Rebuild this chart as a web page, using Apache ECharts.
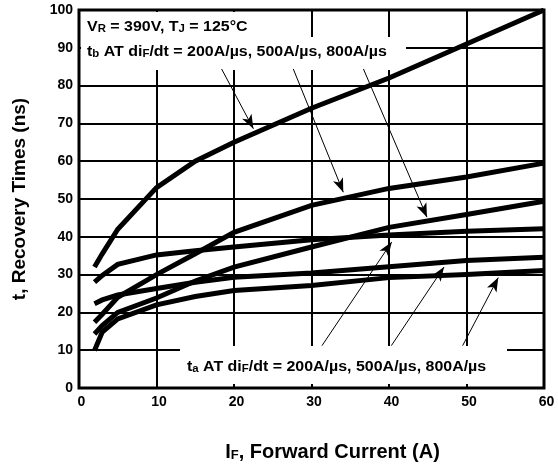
<!DOCTYPE html>
<html>
<head>
<meta charset="utf-8">
<script src="https://cdn.jsdelivr.net/npm/echarts@6/dist/echarts.min.js"></script>
<style>
html, body { margin: 0; padding: 0; background: #fff; }
#main { width: 558px; height: 468px; }
</style>
</head>
<body>
<div id="main"></div>
<script>
// forward current (A), shared by all curves
var current = [2, 3, 5, 10, 15, 20, 30, 40, 50, 60];

// t_b curves (ns)
var tb200 = [32, 35.5, 42, 53, 60, 65, 74, 82, 91, 100];
var tb500 = [17.4, 19.5, 24, 30, 35.5, 41.2, 48.3, 52.8, 55.8, 59.5];
var tb800 = [14.3, 16.5, 20, 23.8, 28.3, 32, 37.3, 42.5, 45.9, 49.4];

// t_a curves (ns)
var ta200 = [28, 29.8, 32.7, 35.2, 36.3, 37.3, 39.2, 40.5, 41.5, 42.1];
var ta500 = [22.3, 23.3, 24.6, 26.3, 28, 29.3, 30.4, 32.1, 33.7, 34.6];
var ta800 = [9.9, 14.8, 18.3, 22, 24.2, 25.8, 27.1, 29.2, 30, 31.1];

// annotation arrows, in data units
var arrowFrom = [[18.4, 84.4], [27.65, 84.4], [36.7, 84.4], [31.35, 11.2], [40.3, 11.2], [49.5, 11.2]];
var arrowTo = [[22.5, 68.6], [34.1, 51.8], [44.9, 45.2], [40.35, 38.6], [47.1, 32.0], [54.1, 29.2]];

var FONT = 'Liberation Sans, Arial, sans-serif';

function pairs(ys) {
    return current.map(function (x, i) { return [x, ys[i]]; });
}

var chart = echarts.init(document.getElementById('main'), null, { renderer: 'canvas' });

function curve(ys) {
    return {
        type: 'line',
        data: pairs(ys),
        symbol: 'none',
        silent: true,
        lineStyle: { color: '#000', width: 5, join: 'miter' },
        z: 3
    };
}

var arrows = arrowFrom.map(function (p, i) {
    return [
        { coord: p, symbol: 'none' },
        { coord: arrowTo[i], symbol: 'arrow' }
    ];
});

var series = [tb200, tb500, tb800, ta200, ta500, ta800].map(curve);
series[0].markLine = {
    silent: true,
    animation: false,
    symbolSize: [8, 14],
    label: { show: false },
    lineStyle: { color: '#000', width: 1, type: 'solid' },
    emphasis: { disabled: true },
    data: arrows
};

var subStyle = { fontFamily: FONT, fontWeight: 'bold', fontSize: 10, padding: [9, 0, 0, 0], verticalAlign: 'bottom', lineHeight: 10 };
var mainStyle = { fontFamily: FONT, fontWeight: 'bold', fontSize: 14, lineHeight: 18, verticalAlign: 'bottom' };

// notes are a little wider than Arial, hence the scaleX
function note(x, y, txt) {
    return {
        type: 'text',
        x: x, y: y,
        scaleX: 1.14,
        z: 10,
        style: {
            text: txt,
            fill: '#000',
            rich: { n: mainStyle, s: subStyle }
        }
    };
}

option = {
    backgroundColor: '#fff',
    animation: false,
    grid: {
        left: 79, right: 14, top: 10, bottom: 80,
        show: true,
        borderColor: '#000',
        borderWidth: 3
    },
    xAxis: {
        type: 'value',
        min: 0, max: 60, interval: 10,
        axisLine: { show: false },
        axisTick: { show: false },
        splitLine: { lineStyle: { color: '#000', width: 2 } },
        axisLabel: {
            color: '#000', fontFamily: FONT, fontWeight: 'bold', fontSize: 14, margin: 7,
            padding: [0, 0, 0, 5]
        },
        name: '{n|I}{s|F}{n|, Forward Current (A)}',
        nameLocation: 'middle',
        nameGap: 50,
        nameTextStyle: {
            padding: [0, 0, 0, 42],
            rich: {
                n: { fontFamily: FONT, fontWeight: 'bold', fontSize: 20, lineHeight: 24, verticalAlign: 'bottom', color: '#000' },
                s: { fontFamily: FONT, fontWeight: 'bold', fontSize: 13, lineHeight: 13, padding: [10, 0, 0, 0], verticalAlign: 'bottom', color: '#000' }
            }
        }
    },
    yAxis: {
        type: 'value',
        min: 0, max: 100, interval: 10,
        axisLine: { show: false },
        axisTick: { show: false },
        splitLine: { lineStyle: { color: '#000', width: 2 } },
        axisLabel: { color: '#000', fontFamily: FONT, fontWeight: 'bold', fontSize: 14, margin: 6 },
        name: 't, Recovery Times (ns)',
        nameLocation: 'middle',
        nameGap: 50,
        nameTextStyle: { color: '#000', fontFamily: FONT, fontWeight: 'bold', fontSize: 19 }
    },
    graphic: [
        // white panels behind the notes, hiding the grid lines
        { type: 'rect', z: 1, shape: { x: 81, y: 12, width: 182, height: 26 }, style: { fill: '#fff' } },
        { type: 'rect', z: 1, shape: { x: 81, y: 37, width: 325, height: 33 }, style: { fill: '#fff' } },
        { type: 'rect', z: 1, shape: { x: 180, y: 346, width: 327, height: 38 }, style: { fill: '#fff' } },
        note(87, 16, '{n|V}{s|R}{n| = 390V, T}{s|J}{n| = 125°C}'),
        note(87, 41, '{n|t}{s|b}{n| AT di}{s|F}{n|/dt = 200A/µs, 500A/µs, 800A/µs}'),
        note(187, 356, '{n|t}{s|a}{n| AT di}{s|F}{n|/dt = 200A/µs, 500A/µs, 800A/µs}')
    ],
    series: series
};

chart.setOption(option);
</script>
</body>
</html>
